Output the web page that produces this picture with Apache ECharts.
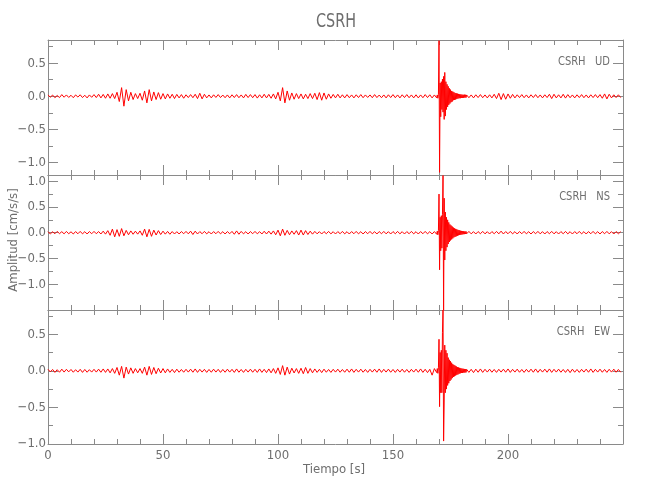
<!DOCTYPE html>
<html><head><meta charset="utf-8">
<script src="https://cdn.jsdelivr.net/npm/echarts@6/dist/echarts.min.js"></script>
<style>html,body{margin:0;padding:0;background:#fff}#c{width:650px;height:500px}</style>
</head><body><div id="c"></div>
<script>
// ---------------- DATA ----------------
const title = 'CSRH';
const componentLabels = ['CSRH   UD', 'CSRH   NS', 'CSRH   EW'];
const xTickLabels = [0, 50, 100, 150, 200];
const yTickLabels = [[-1.0, -0.5, 0.0, 0.5], [-1.0, -0.5, 0.0, 0.5, 1.0], [-1.0, -0.5, 0.0, 0.5]];
// sample grids (s): pre-event 1 s from 0, event 0.25 s from 169, post-event 1 s from 183
const preStart = 0, preStep = 1, eventStart = 169, eventStep = 0.25, postStart = 183, postStep = 1;

// UD component (cm/s/s)
const udPre = [
 0.02,-0.015,0.018,-0.022,0.012,-0.02,0.025,-0.015,0.02,-0.018,
 0.015,-0.022,0.02,-0.012,0.022,-0.02,0.015,-0.025,0.02,-0.016,
 0.025,-0.02,0.03,-0.025,0.028,-0.03,0.035,-0.03,0.04,-0.035,
 0.06,-0.08,0.13,-0.15,0.1,-0.07,0.06,-0.05,0.04,-0.035,
 0.045,-0.06,0.08,-0.1,0.1,-0.07,0.065,-0.05,0.055,-0.045,
 0.04,-0.04,0.035,-0.03,0.03,-0.035,0.028,-0.025,0.025,-0.03,
 0.022,-0.02,0.025,-0.022,0.03,-0.035,0.045,-0.04,0.03,-0.025,
 0.02,-0.025,0.022,-0.018,0.025,-0.02,0.018,-0.022,0.02,-0.025,
 0.022,-0.02,0.025,-0.022,0.02,-0.025,0.028,-0.02,0.025,-0.022,
 0.025,-0.028,0.022,-0.025,0.03,-0.025,0.028,-0.03,0.035,-0.04,
 0.06,-0.07,0.13,-0.1,0.08,-0.06,0.05,-0.045,0.04,-0.035,
 0.035,-0.04,0.03,-0.035,0.04,-0.035,0.045,-0.05,0.055,-0.06,
 0.05,-0.045,0.035,-0.03,0.028,-0.025,0.03,-0.025,0.022,-0.025,
 0.025,-0.022,0.02,-0.025,0.022,-0.02,0.025,-0.022,0.02,-0.018,
 0.02,-0.022,0.025,-0.02,0.018,-0.022,0.02,-0.025,0.022,-0.02,
 0.025,-0.022,0.02,-0.025,0.022,-0.02,0.025,-0.022,0.02,-0.025,
 0.022,-0.025,0.02,-0.022,0.025,-0.02,0.022,-0.025,0.02];
const udEvent = [
 -0.025,0.02,-0.03,0.025,
 0.84,-1.15,0.2,-0.31,
 0.22,-0.2,0.26,-0.24,
 0.3,-0.35,0.36,-0.3,
 0.22,-0.2,0.18,-0.16,
 0.15,-0.13,0.12,-0.11,
 0.1,-0.09,0.08,-0.08,
 0.07,-0.06,0.06,-0.055,
 0.05,-0.05,0.045,-0.04,
 0.04,-0.035,0.035,-0.03,
 0.03,-0.03,0.028,-0.025,
 0.025,-0.025,0.022,-0.025,
 0.025,-0.02,0.022,-0.02,
 0.02];
const udPost = [
 -0.022,0.02,-0.025,0.022,-0.02,0.025,-0.022,0.02,-0.025,0.022,
 -0.025,0.03,-0.035,0.045,-0.05,0.04,-0.045,0.035,-0.03,0.028,
 -0.025,0.022,-0.02,0.025,-0.022,0.02,-0.025,0.022,-0.02,0.025,
 -0.022,0.02,-0.025,0.022,-0.02,0.03,-0.035,0.03,-0.025,0.022,
 -0.025,0.03,-0.028,0.025,-0.022,0.02,-0.025,0.022,-0.02,0.025,
 -0.022,0.02,-0.025,0.022,-0.02,0.025,-0.022,0.025,-0.03,0.035,
 -0.04,0.03,-0.025,0.022,-0.02,0.022,-0.02];

// NS component
const nsPre = [
 0.02,-0.025,0.018,-0.02,0.025,-0.018,0.02,-0.022,0.025,-0.02,
 0.018,-0.025,0.022,-0.02,0.025,-0.022,0.02,-0.025,0.022,-0.02,
 0.025,-0.02,0.022,-0.025,0.03,-0.028,0.04,-0.05,0.07,-0.08,
 0.06,-0.07,0.08,-0.06,0.045,-0.04,0.035,-0.03,0.03,-0.028,
 0.035,-0.05,0.07,-0.08,0.065,-0.07,0.05,-0.045,0.04,-0.035,
 0.03,-0.028,0.025,-0.03,0.022,-0.025,0.02,-0.025,0.022,-0.02,
 0.025,-0.022,0.03,-0.035,0.03,-0.025,0.022,-0.02,0.025,-0.022,
 0.02,-0.025,0.022,-0.02,0.025,-0.022,0.02,-0.025,0.022,-0.02,
 0.025,-0.03,0.035,-0.03,0.025,-0.022,0.02,-0.025,0.022,-0.02,
 0.025,-0.022,0.02,-0.025,0.028,-0.025,0.03,-0.028,0.035,-0.04,
 0.05,-0.06,0.07,-0.05,0.045,-0.04,0.035,-0.03,0.04,-0.045,
 0.05,-0.045,0.04,-0.035,0.03,-0.028,0.025,-0.022,0.02,-0.025,
 0.022,-0.02,0.025,-0.022,0.02,-0.025,0.022,-0.02,0.025,-0.022,
 0.02,-0.025,0.022,-0.02,0.025,-0.022,0.02,-0.025,0.022,-0.02,
 0.025,-0.022,0.02,-0.025,0.022,-0.02,0.025,-0.022,0.02,-0.025,
 0.022,-0.02,0.025,-0.022,0.02,-0.025,0.022,-0.02,0.025,-0.022,
 0.02,-0.025,0.022,-0.02,0.025,-0.022,0.02,-0.025,0.022];
const nsEvent = [
 -0.03,0.03,-0.04,0.04,
 0.75,-0.72,0.3,-0.35,
 0.33,-0.3,0.35,1.11,
 -1.5,0.67,-0.53,0.4,
 -0.35,0.3,-0.28,0.25,
 -0.22,0.2,-0.18,0.16,
 -0.15,0.14,-0.13,0.12,
 -0.11,0.1,-0.09,0.085,
 -0.08,0.075,-0.07,0.065,
 -0.06,0.055,-0.05,0.05,
 -0.045,0.04,-0.04,0.035,
 -0.035,0.03,-0.03,0.03,
 -0.028,0.025,-0.025,0.025,
 -0.022];
const nsPost = [
 0.025,-0.022,0.02,-0.025,0.022,-0.02,0.025,-0.022,0.02,-0.025,
 0.022,-0.02,0.025,-0.022,0.03,-0.025,0.022,-0.02,0.025,-0.022,
 0.02,-0.025,0.022,-0.02,0.025,-0.022,0.02,-0.025,0.022,-0.02,
 0.025,-0.022,0.02,-0.025,0.022,-0.02,0.025,-0.022,0.02,-0.025,
 0.022,-0.02,0.025,-0.022,0.02,-0.025,0.022,-0.02,0.025,-0.022,
 0.02,-0.025,0.022,-0.02,0.025,-0.022,0.02,-0.025,0.022,-0.02,
 0.025,-0.022,0.02,-0.025,0.022,-0.02,0.02];

// EW component
const ewPre = [
 0.02,-0.015,0.018,-0.022,0.015,-0.02,0.022,-0.018,0.02,-0.015,
 0.018,-0.02,0.015,-0.018,0.02,-0.022,0.018,-0.02,0.015,-0.018,
 0.02,-0.018,0.022,-0.02,0.025,-0.022,0.025,-0.028,0.03,-0.035,
 0.045,-0.06,0.06,-0.1,0.05,-0.045,0.04,-0.035,0.03,-0.028,
 0.03,-0.035,0.05,-0.06,0.06,-0.05,0.045,-0.04,0.035,-0.03,
 0.03,-0.028,0.025,-0.022,0.02,-0.025,0.022,-0.02,0.018,-0.02,
 0.02,-0.018,0.022,-0.02,0.025,-0.022,0.02,-0.018,0.02,-0.022,
 0.018,-0.02,0.022,-0.018,0.02,-0.022,0.018,-0.02,0.022,-0.018,
 0.02,-0.022,0.025,-0.02,0.018,-0.022,0.02,-0.018,0.022,-0.02,
 0.02,-0.022,0.025,-0.022,0.02,-0.025,0.025,-0.028,0.03,-0.035,
 0.04,-0.05,0.07,-0.06,0.05,-0.045,0.035,-0.03,0.03,-0.035,
 0.035,-0.04,0.045,-0.035,0.03,-0.028,0.025,-0.022,0.02,-0.025,
 0.022,-0.02,0.018,-0.022,0.02,-0.018,0.022,-0.02,0.018,-0.02,
 0.022,-0.02,0.025,-0.022,0.02,-0.018,0.022,-0.02,0.018,-0.022,
 0.02,-0.018,0.022,-0.02,0.025,-0.022,0.02,-0.018,0.022,-0.02,
 0.018,-0.022,0.02,-0.018,0.022,-0.02,0.018,-0.022,0.02,-0.018,
 0.022,-0.02,0.025,-0.022,0.02,-0.025,0.02,-0.06,0.03];
const ewEvent = [
 -0.025,0.03,-0.035,0.04,
 0.43,-0.49,0.25,-0.3,
 0.28,-0.3,0.52,0.83,
 -0.96,-0.44,0.35,-0.3,
 0.28,-0.25,0.24,-0.2,
 0.18,-0.17,0.15,-0.14,
 0.13,-0.12,0.11,-0.1,
 0.09,-0.085,0.08,-0.075,
 0.07,-0.065,0.06,-0.055,
 0.05,-0.05,0.045,-0.04,
 0.04,-0.035,0.035,-0.03,
 0.03,-0.03,0.028,-0.025,
 0.025,-0.025,0.022,-0.022,
 0.02];
const ewPost = [
 -0.022,0.02,-0.025,0.022,-0.02,0.025,-0.022,0.02,-0.018,0.022,
 -0.02,0.018,-0.022,0.02,-0.018,0.022,-0.02,0.025,-0.022,0.02,
 -0.018,0.022,-0.02,0.018,-0.022,0.02,-0.018,0.022,-0.02,0.025,
 -0.022,0.02,-0.018,0.022,-0.02,0.025,-0.022,0.02,-0.018,0.022,
 -0.02,0.018,-0.022,0.02,-0.025,0.022,-0.02,0.018,-0.022,0.02,
 -0.018,0.022,-0.02,0.025,-0.022,0.02,-0.018,0.022,-0.02,0.018,
 -0.022,0.02,-0.018,0.022,-0.02,0.018,-0.02];

// ---------------- CHART ----------------
const FONT = "'Liberation Sans Narrow','DejaVu Sans Condensed','Liberation Sans',sans-serif";
const TXT = '#6e6e6e', AX = '#8a8a8a';
const xMin = 0, xMax = 250;
const yRanges = [[-1.19, 0.85], [-1.5, 1.12], [-1.0, 0.83]];
const gridTops = [40, 175, 310], gridHeights = [135, 135, 134];

function build(pre, ev, post) {
  const d = [];
  pre.forEach((v, i) => d.push([preStart + i * preStep, v]));
  ev.forEach((v, i) => d.push([eventStart + i * eventStep, v]));
  post.forEach((v, i) => d.push([postStart + i * postStep, v]));
  return d;
}
const traces = [build(udPre, udEvent, udPost), build(nsPre, nsEvent, nsPost), build(ewPre, ewEvent, ewPost)];

const xMajor = [], xMinor = [];
for (let v = xMin; v <= xMax; v += 10) { (v % 50 === 0 ? xMajor : xMinor).push(v); }
function yMinorFor(r) { const a = []; for (let v = -2; v <= 2; v += 0.25) { if (Math.abs(v * 2 - Math.round(v * 2)) > 1e-6 && v > r[0] && v < r[1]) a.push(v); } return a; }
function yMajorFor(r) { const a = []; for (let v = -2; v <= 2; v += 0.5) { if (v >= r[0] - 1e-9 && v <= r[1]) a.push(v); } return a; }
const fmtY = v => { const s = Math.abs(v).toFixed(1); return v < -1e-9 ? '\u2212' + s : s; };

const grids = [], xAxes = [], yAxes = [], series = [];
for (let p = 0; p < 3; p++) {
  grids.push({ left: 48, right: 27, top: gridTops[p], height: gridHeights[p], outerBoundsMode: 'none', containLabel: false });
  const base = { type: 'value', gridIndex: p, min: xMin, max: xMax, splitLine: { show: false } };
  const mk = (pos, ticks, len, line, label) => Object.assign({}, base, {
    position: pos,
    axisLine: { show: line, onZero: false, lineStyle: { color: AX, width: 1 } },
    axisTick: { show: true, inside: true, length: len, customValues: ticks, lineStyle: { color: AX, width: 1 } },
    axisLabel: label ? { show: true, customValues: xTickLabels, color: TXT, fontFamily: FONT, fontSize: 13, margin: 5, formatter: v => String(v) } : { show: false }
  });
  xAxes.push(mk('bottom', xMajor, 10, true, p === 2));
  xAxes.push(mk('bottom', xMinor, 5, false, false));
  xAxes.push(mk('top', xMajor, 10, true, false));
  xAxes.push(mk('top', xMinor, 5, false, false));
  const r = yRanges[p];
  const ybase = { type: 'value', gridIndex: p, min: r[0], max: r[1], splitLine: { show: false } };
  const mky = (pos, ticks, len, line, label) => Object.assign({}, ybase, {
    position: pos,
    axisLine: { show: line, onZero: false, lineStyle: { color: AX, width: 1 } },
    axisTick: { show: true, inside: true, length: len, customValues: ticks, lineStyle: { color: AX, width: 1 } },
    axisLabel: label ? { show: true, customValues: yTickLabels[p], color: TXT, fontFamily: FONT, fontSize: 13, margin: 2, formatter: fmtY } : { show: false }
  });
  yAxes.push(mky('left', yMajorFor(r), 10, true, true));
  yAxes.push(mky('left', yMinorFor(r), 5, false, false));
  yAxes.push(mky('right', yMajorFor(r), 10, true, false));
  yAxes.push(mky('right', yMinorFor(r), 5, false, false));
  series.push({
    type: 'line', xAxisIndex: 4 * p, yAxisIndex: 4 * p, data: traces[p],
    showSymbol: false, symbol: 'none', sampling: false, animation: false,
    lineStyle: { color: '#ff0000', width: 1 }, z: 1
  });
}

const graphic = [
  { type: 'text', x: 336, y: 22, scaleX: 0.8, style: { text: title, fill: TXT, font: '20px ' + FONT, textAlign: 'center', textVerticalAlign: 'middle' } },
  { type: 'text', x: 14, y: 240, rotation: Math.PI / 2, style: { text: 'Amplitud [cm/s/s]', fill: TXT, font: '13px ' + FONT, textAlign: 'center', textVerticalAlign: 'middle' } },
  { type: 'text', x: 334, y: 470, style: { text: 'Tiempo [s]', fill: TXT, font: '13px ' + FONT, textAlign: 'center', textVerticalAlign: 'middle' } }
];
componentLabels.forEach((t, p) => graphic.push({
  type: 'text', x: 610, y: gridTops[p] + 22, scaleX: 0.85,
  style: { text: t, fill: TXT, font: '13px ' + FONT, textAlign: 'right', textVerticalAlign: 'middle' }
}));

const chart = echarts.init(document.getElementById('c'), null, { renderer: 'canvas' });
chart.setOption({
  backgroundColor: '#ffffff',
  animation: false,
  grid: grids, xAxis: xAxes, yAxis: yAxes, series: series, graphic: graphic
});
</script>
</body></html>
